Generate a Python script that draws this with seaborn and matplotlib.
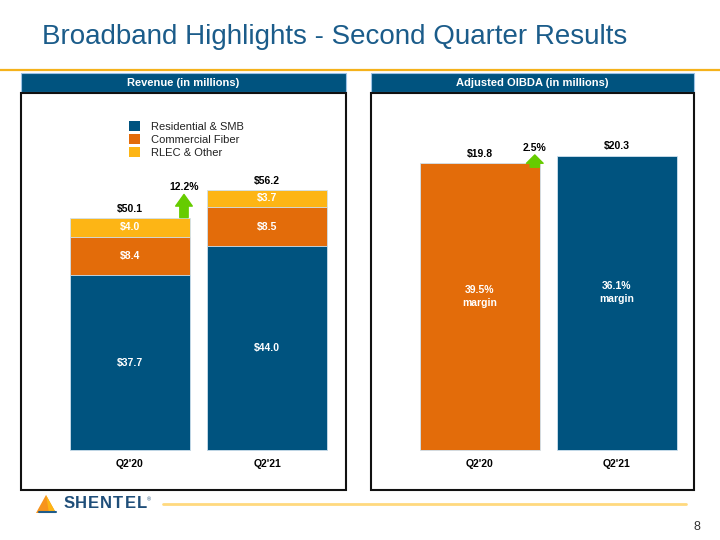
import matplotlib
matplotlib.use("Agg")
import matplotlib.pyplot as plt
import seaborn as sns
import pandas as pd
from matplotlib.patches import Rectangle, Patch, Polygon

# ---------------------------------------------------------------------------
# Data
# ---------------------------------------------------------------------------
quarters = ["Q2'20", "Q2'21"]
residential = [37.7, 44.0]
commercial = [8.4, 8.5]
rlec = [4.0, 3.7]
revenue_total = [50.1, 56.2]
revenue_growth = "12.2%"

oibda = [19.8, 20.3]
oibda_margin = ["39.5%", "36.1%"]
oibda_growth = "2.5%"

segments = ["Residential & SMB", "Commercial Fiber", "RLEC & Other"]

BLUE = "#00537F"
ORANGE = "#E36C0A"
YELLOW = "#FDB515"
GREEN = "#66CC00"
EDGE = "#CFE2F0"

W, H = 720, 540
sns.set_theme(style="white")
plt.rcParams["font.family"] = ["Liberation Sans", "DejaVu Sans"]

fig = plt.figure(figsize=(7.2, 5.4), dpi=100)
fig.patch.set_facecolor("white")


def px_axes(x0, y0, x1, y1):
    """Axes from pixel box (top-left origin)."""
    return fig.add_axes([x0 / W, 1 - y1 / H, (x1 - x0) / W, (y1 - y0) / H])


# background / decoration layer
bg = px_axes(0, 0, W, H)
bg.set_xlim(0, W); bg.set_ylim(H, 0); bg.axis("off")

bg.text(42, 37, "Broadband Highlights - Second Quarter Results", fontsize=20,
        color="#1B5C8A", va="center", ha="left")
bg.plot([0, W], [70, 70], color="#F5B21B", lw=1.6, solid_capstyle="butt")

for x0, x1, title in [(21, 346, "Revenue (in millions)"),
                      (371, 694, "Adjusted OIBDA (in millions)")]:
    bg.add_patch(Rectangle((x0, 73), x1 - x0, 19, facecolor=BLUE,
                           edgecolor="#9DC3E6", lw=0.8))
    bg.text((x0 + x1) / 2, 82.5, title, color="white", fontsize=8,
            fontweight="bold", ha="center", va="center")
    bg.add_patch(Rectangle((x0, 93), x1 - x0, 397, facecolor="none",
                           edgecolor="#111111", lw=1.5))

# footer: logo + line + page number
bg.add_patch(Polygon([[36, 513], [46, 495], [56, 513]], closed=True,
                     facecolor="#F7941D", edgecolor="none"))
bg.add_patch(Polygon([[46, 495], [56, 513], [49, 513]], closed=True,
                     facecolor="#FDB515", edgecolor="none"))
bg.plot([39, 56], [512, 512], color="#1F5C8A", lw=1.5)
for k, ch in enumerate("SHENTEL"):
    bg.text(69 + k * 12.2, 504, ch, fontsize=12, fontweight="bold",
            color="#1F4E79", va="center", ha="center")
bg.text(149, 500, "®", fontsize=4, color="#1F4E79", va="center", ha="center")
bg.plot([163, 686], [504, 504], color="#FFD97F", lw=2)
bg.text(697, 527, "8", fontsize=9, color="#333333", ha="center", va="center")

label_kw = dict(fontsize=7.5, fontweight="bold", ha="center")

# ---------------------------------------------------------------------------
# Revenue stacked bars
# ---------------------------------------------------------------------------
rev = pd.DataFrame({"quarter": quarters, "res": residential,
                    "comm": commercial, "rlec": rlec})
rev["lvl2"] = rev["res"] + rev["comm"]
rev["lvl3"] = rev["lvl2"] + rev["rlec"]

ax1 = px_axes(21, 93, 346, 490)
sc1 = 4.63  # px per unit
for col, colr in [("lvl3", YELLOW), ("lvl2", ORANGE), ("res", BLUE)]:
    sns.barplot(data=rev, x="quarter", y=col, color=colr, width=0.876,
                edgecolor=EDGE, linewidth=0.6, saturation=1, ax=ax1)
ax1.set_xlim((21 - 130) / 137, (346 - 130) / 137)
ax1.set_ylim(-40 / sc1, (450 - 93) / sc1)
ax1.axis("off")

for i, q in enumerate(quarters):
    r, c, o = residential[i], commercial[i], rlec[i]
    ax1.text(i, r / 2, f"${r:.1f}", color="white", va="center", **label_kw)
    ax1.text(i, r + c / 2, f"${c:.1f}", color="white", va="center", **label_kw)
    ax1.text(i, r + c + o / 2, f"${o:.1f}", color="white", va="center", **label_kw)
    ax1.annotate(f"${revenue_total[i]:.1f}", (i, rev["lvl3"][i]), xytext=(0, 3),
                 textcoords="offset points", va="bottom", color="black", **label_kw)
    ax1.annotate(q, (i, 0), xytext=(0, -6.5), textcoords="offset points",
                 va="top", color="black", **label_kw)

ax1.annotate("", xy=(0.394, 55.2), xytext=(0.394, 50.2),
             arrowprops=dict(arrowstyle="simple,head_width=1.0,head_length=0.7,tail_width=0.5",
                             color=GREEN, shrinkA=0, shrinkB=0))
ax1.text(0.394, 56.8, revenue_growth, va="center", color="black", **label_kw)

handles = [Patch(facecolor=c, edgecolor="none") for c in (BLUE, ORANGE, YELLOW)]
leg = ax1.legend(handles, segments, loc="upper left", frameon=False,
                 bbox_to_anchor=((129 - 21) / 325, 1 - (121 - 93) / 397),
                 fontsize=8, handlelength=1.0, handleheight=1.0,
                 handletextpad=1.0, labelspacing=0.22, borderaxespad=0,
                 borderpad=0)
for t in leg.get_texts():
    t.set_color("#222222")

# ---------------------------------------------------------------------------
# OIBDA bars
# ---------------------------------------------------------------------------
ob = pd.DataFrame({"quarter": quarters, "oibda": oibda})
ax2 = px_axes(371, 93, 694, 490)
sc2 = 14.5
sns.barplot(data=ob, x="quarter", y="oibda", hue="quarter",
            palette=[ORANGE, BLUE], width=0.876, edgecolor=EDGE,
            linewidth=0.6, saturation=1, legend=False, ax=ax2)
ax2.set_xlim((371 - 480) / 137, (694 - 480) / 137)
ax2.set_ylim(-40 / sc2, (450 - 93) / sc2)
ax2.axis("off")

for i, q in enumerate(quarters):
    ax2.annotate(f"${oibda[i]:.1f}", (i, oibda[i]), xytext=(0, 3),
                 textcoords="offset points", va="bottom", color="black", **label_kw)
    ax2.text(i, oibda[i] * 0.535, f"{oibda_margin[i]}\nmargin", color="white",
             va="center", linespacing=1.4, **label_kw)
    ax2.annotate(q, (i, 0), xytext=(0, -6.5), textcoords="offset points",
                 va="top", color="black", **label_kw)

ax2.annotate("", xy=(0.40, 20.35), xytext=(0.40, 19.5),
             arrowprops=dict(arrowstyle="simple,head_width=1.0,head_length=0.5,tail_width=0.55",
                             color=GREEN, shrinkA=0, shrinkB=0))
ax2.text(0.40, 20.85, oibda_growth, va="center", color="black", **label_kw)

fig.savefig("out.png", dpi=100)
